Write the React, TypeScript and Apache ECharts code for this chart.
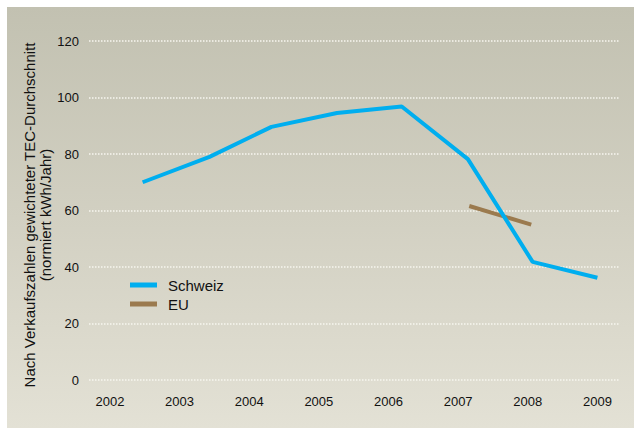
import React, { useEffect, useRef } from "react";
import * as echarts from "echarts";

const years = [2002, 2003, 2004, 2005, 2006, 2007, 2008, 2009];
const schweizX = [2002.47, 2003.43, 2004.32, 2005.26, 2006.19, 2007.14, 2008.07, 2009.0];
const schweizY = [70, 79, 89.6, 94.5, 96.8, 78.2, 41.8, 36.2];
const euX = [2007.16, 2008.05];
const euY = [61.6, 55];
const yTitle1 = "Nach Verkaufszahlen gewichteter TEC-Durchschnitt";
const yTitle2 = "(normiert kWh/Jahr)";

const FONT = '"Liberation Sans", Arial, Helvetica, sans-serif';

export default function App() {
  const ref = useRef<HTMLDivElement>(null);
  useEffect(() => {
    if (!ref.current) return;
    const chart = echarts.init(ref.current, undefined, { renderer: "svg" });
    chart.setOption({
      animation: false,
      backgroundColor: "transparent",
      textStyle: { fontFamily: FONT },
      grid: { left: 89, right: 15, top: 41, bottom: 50 },
      xAxis: {
        type: "value",
        min: 2001.7,
        max: 2009.31,
        axisLine: { show: false },
        axisTick: { show: false },
        splitLine: { show: false },
        axisLabel: {
          customValues: years,
          formatter: (v: number) => String(Math.round(v)),
          color: "#111",
          fontSize: 13,
          fontFamily: FONT,
          margin: 15,
        },
      },
      yAxis: {
        type: "value",
        min: 0,
        max: 120,
        interval: 20,
        axisLine: { show: false },
        axisTick: { show: false },
        axisLabel: { color: "#111", fontSize: 13, fontFamily: FONT, margin: 10 },
        splitLine: {
          lineStyle: { color: "#F7F6F0", width: 1.5, type: [1.5, 1.5] },
        },
      },
      legend: {
        orient: "vertical",
        left: 130,
        top: 277,
        padding: 0,
        icon: "rect",
        itemWidth: 27,
        itemHeight: 5,
        itemGap: 3,
        textStyle: {
          color: "#111",
          fontSize: 15,
          fontFamily: FONT,
          lineHeight: 16,
          padding: [0, 0, 0, 6],
        },
        data: ["Schweiz", "EU"],
      },
      graphic: [
        {
          type: "text",
          x: 29,
          y: 215,
          rotation: Math.PI / 2,
          style: {
            text: yTitle1,
            fill: "#111",
            font: `15px ${FONT}`,
            align: "center",
            verticalAlign: "middle",
          },
        },
        {
          type: "text",
          x: 45,
          y: 215,
          rotation: Math.PI / 2,
          style: {
            text: yTitle2,
            fill: "#111",
            font: `15px ${FONT}`,
            align: "center",
            verticalAlign: "middle",
          },
        },
      ],
      series: [
        {
          name: "Schweiz",
          type: "line",
          data: schweizX.map((x, i) => [x, schweizY[i]]),
          showSymbol: false,
          symbol: "none",
          color: "#00AEEF",
          lineStyle: { width: 4, color: "#00AEEF" },
          z: 3,
        },
        {
          name: "EU",
          type: "line",
          data: euX.map((x, i) => [x, euY[i]]),
          showSymbol: false,
          symbol: "none",
          color: "#9B7A4E",
          lineStyle: { width: 4, color: "#9B7A4E" },
          z: 2,
        },
      ],
    });
    return () => chart.dispose();
  }, []);
  return (
    <div style={{ position: "fixed", left: 0, top: 0, width: 634, height: 430, background: "#fff" }}>
      <div
        style={{
          position: "absolute",
          left: 7,
          top: 7,
          width: 627,
          height: 421,
          background: "linear-gradient(to bottom, #C2C1B1 0%, #D2D0C2 50%, #E3E1D5 100%)",
        }}
      />
      <div ref={ref} style={{ position: "absolute", left: 0, top: 0, width: 634, height: 430 }} />
    </div>
  );
}
